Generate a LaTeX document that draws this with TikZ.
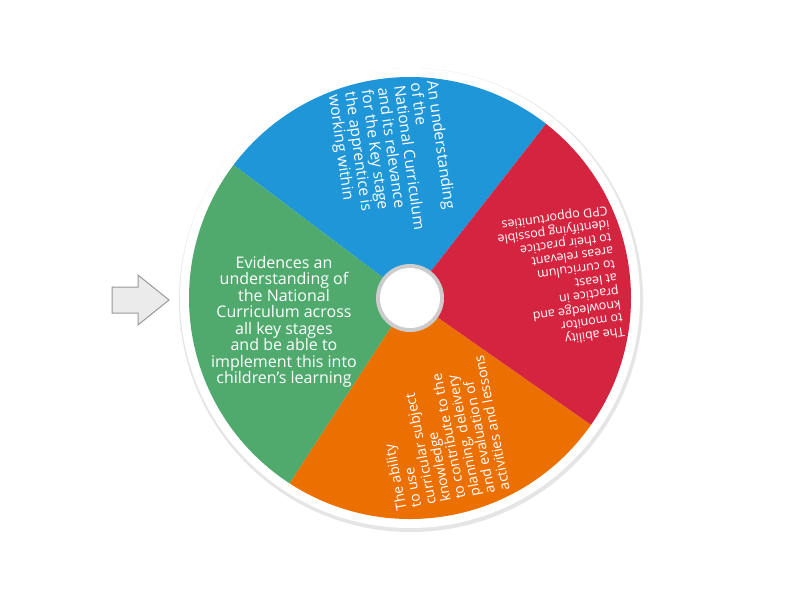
\documentclass[tikz,border=0pt]{standalone}
\usepackage{fontspec}
\setmainfont{Open Sans}
\definecolor{wgreen}{RGB}{80,170,110}
\definecolor{wblue}{RGB}{30,150,215}
\definecolor{wred}{RGB}{212,36,64}
\definecolor{worange}{RGB}{236,112,0}
\begin{document}
\begin{tikzpicture}[x=1pt,y=-1pt]
\tikzstyle{every node}+=[inner sep=0pt]
\tikzset{lbl/.style={text=white,font=\fontsize{15.5}{16.5}\selectfont,align=left}}
\useasboundingbox (0,0) rectangle (800,600);
\coordinate (c) at (410,298);
% rim and shadow
\fill [black!10] (411,300) circle (232);
\fill [white] (c) circle (230);
% sectors (angles measured counter-clockwise on the page)
\fill [wblue] (c) -- ++(-52:221) arc (-52:-143:221) -- cycle;
\fill [wgreen] (c) -- ++(-143:221) arc (-143:-237:221) -- cycle;
\fill [worange] (c) -- ++(-237:221) arc (-237:-325:221) -- cycle;
\fill [wred] (c) -- ++(-325:221) arc (-325:-412:221) -- cycle;
% hub
\fill [black!20] (c) circle (34);
\fill [white] (c) circle (30);
% labels
\node [lbl, rotate=-82] (tblue) at (392,160) {An understanding\\of the\\National Curriculum\\and its relevance\\for the Key stage\\the apprentice is\\working within};
\node [lbl, align=center, font=\fontsize{16}{16.5}\selectfont] (tgreen) at (284,322) {Evidences an\\understanding of\\the National\\Curriculum across\\all key stages\\and be able to\\implement this into\\children's learning};
\node [lbl, rotate=-259, font=\fontsize{14}{15}\selectfont] (torange) at (440,433) {The ability\\to use\\curricular subject\\knowledge\\to contribute to the\\planning, deleivery\\and evaluation of\\activities and lessons};
\node [lbl, rotate=-172, font=\fontsize{12.5}{13.5}\selectfont] (tred) at (560,278) {The ability\\to monitor\\knowledge and\\practice in\\at least\\to curriculum\\areas relevant\\to their practice\\identifying possible\\CPD opportunities};
% pointer
\draw [black!40, fill=black!8, line width=1pt] (112,287) -- (138,287) -- (138,275) -- (169,300) -- (138,325) -- (138,313) -- (112,313) -- cycle;
\end{tikzpicture}
\end{document}
